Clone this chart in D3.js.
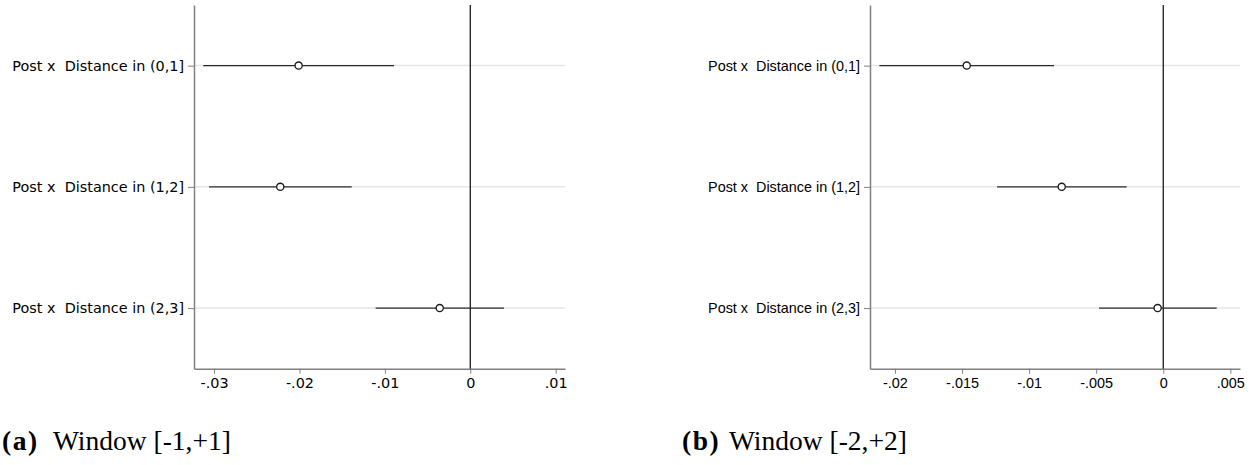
<!DOCTYPE html>
<html>
<head>
<meta charset="utf-8">
<script src="https://cdn.jsdelivr.net/npm/d3@7"></script>
<style>
  body { margin: 0; background: #fff; }
  svg { display: block; }
  text { white-space: pre; }
</style>
</head>
<body>
<svg id="chart" width="1260" height="465"></svg>
<script>
const rowLabels = [
  "Post x  Distance in (0,1]",
  "Post x  Distance in (1,2]",
  "Post x  Distance in (2,3]",
];

// window [-1,+1]
const coefA = [-0.0201, -0.02225, -0.00358];
const loA = [-0.03127, -0.0306, -0.01108];
const hiA = [-0.00893, -0.01389, 0.00395];
const ticksA = [-0.03, -0.02, -0.01, 0, 0.01];
const tickLabelsA = ["-.03", "-.02", "-.01", "0", ".01"];

// window [-2,+2]
const coefB = [-0.01465, -0.00757, -0.00042];
const loB = [-0.02116, -0.01239, -0.00479];
const hiB = [-0.00814, -0.00273, 0.00398];
const ticksB = [-0.02, -0.015, -0.01, -0.005, 0, 0.005];
const tickLabelsB = ["-.02", "-.015", "-.01", "-.005", "0", ".005"];

const captions = [
  { tag: "(a)", text: "Window [-1,+1]" },
  { tag: "(b)", text: "Window [-2,+2]" },
];

const svg = d3.select("#chart");
const plotTop = 5;
const plotBottom = 368.7;

const panels = [
  {
    coef: coefA, lo: loA, hi: hiA, ticks: ticksA, tickLabels: tickLabelsA,
    domain: [-0.03235, 0.01109], range: [194, 565],
    font: "DejaVu Sans", caption: captions[0], capX: 2, capTextX: 53,
  },
  {
    coef: coefB, lo: loB, hi: hiB, ticks: ticksB, tickLabels: tickLabelsB,
    domain: [-0.02186, 0.00572], range: [870, 1240],
    font: "Liberation Sans", caption: captions[1], capX: 682, capTextX: 729,
  },
];

panels.forEach((p) => {
  const x = d3.scaleLinear().domain(p.domain).range(p.range);
  const y = d3.scaleLinear().domain([0.5, 3.5]).range([plotTop, plotBottom]);
  const rows = rowLabels.map((label, i) => ({
    label, row: i + 1, coef: p.coef[i], lo: p.lo[i], hi: p.hi[i],
  }));

  const g = svg.append("g").attr("font-family", p.font);

  // grid lines
  g.append("g")
    .selectAll("line")
    .data(rows)
    .join("line")
    .attr("x1", p.range[0])
    .attr("x2", p.range[1])
    .attr("y1", (d) => y(d.row))
    .attr("y2", (d) => y(d.row))
    .attr("stroke", "#e6e6e6")
    .attr("stroke-width", 1.5);

  // y axis
  g.append("g")
    .attr("transform", `translate(${p.range[0]},0)`)
    .call(
      d3.axisLeft(y)
        .tickValues([1, 2, 3])
        .tickFormat((d) => rowLabels[d - 1])
        .tickSize(6)
        .tickSizeOuter(0)
        .tickPadding(4)
    )
    .call((a) => a.select(".domain").attr("stroke", "#808080").attr("stroke-width", 1.5))
    .call((a) => a.selectAll(".tick line").attr("stroke", "#808080").attr("stroke-width", 1))
    .call((a) =>
      a.selectAll(".tick text")
        .attr("fill", "#000")
        .attr("font-size", 14.4)
        .attr("font-family", p.font)
    );

  // x axis
  g.append("g")
    .attr("transform", `translate(0,${plotBottom})`)
    .call(
      d3.axisBottom(x)
        .tickValues(p.ticks)
        .tickFormat((d, i) => p.tickLabels[i])
        .tickSize(5)
        .tickSizeOuter(0)
        .tickPadding(4)
    )
    .call((a) => a.select(".domain").attr("stroke", "#808080").attr("stroke-width", 1.5))
    .call((a) => a.selectAll(".tick line").attr("stroke", "#808080").attr("stroke-width", 1))
    .call((a) =>
      a.selectAll(".tick text")
        .attr("fill", "#000")
        .attr("font-size", 14.4)
        .attr("font-family", p.font)
    );

  // zero line
  g.append("line")
    .attr("x1", x(0))
    .attr("x2", x(0))
    .attr("y1", plotTop)
    .attr("y2", plotBottom)
    .attr("stroke", "#1a1a1a")
    .attr("stroke-width", 1.3);

  // confidence intervals
  g.append("g")
    .selectAll("line")
    .data(rows)
    .join("line")
    .attr("x1", (d) => x(d.lo))
    .attr("x2", (d) => x(d.hi))
    .attr("y1", (d) => y(d.row))
    .attr("y2", (d) => y(d.row))
    .attr("stroke", "#2a2a2a")
    .attr("stroke-width", 1.4);

  // point estimates
  g.append("g")
    .selectAll("circle")
    .data(rows)
    .join("circle")
    .attr("cx", (d) => x(d.coef))
    .attr("cy", (d) => y(d.row))
    .attr("r", 3.6)
    .attr("fill", "#fff")
    .attr("stroke", "#1a1a1a")
    .attr("stroke-width", 1.3);

  // caption
  const cap = svg.append("g").attr("font-family", "Liberation Serif").attr("font-size", 27.5);
  cap.append("text")
    .attr("x", p.capX)
    .attr("y", 450)
    .attr("font-weight", "bold")
    .attr("letter-spacing", 1.5)
    .text(p.caption.tag);
  cap.append("text")
    .attr("x", p.capTextX)
    .attr("y", 450)
    .text(p.caption.text);
});
</script>
</body>
</html>
